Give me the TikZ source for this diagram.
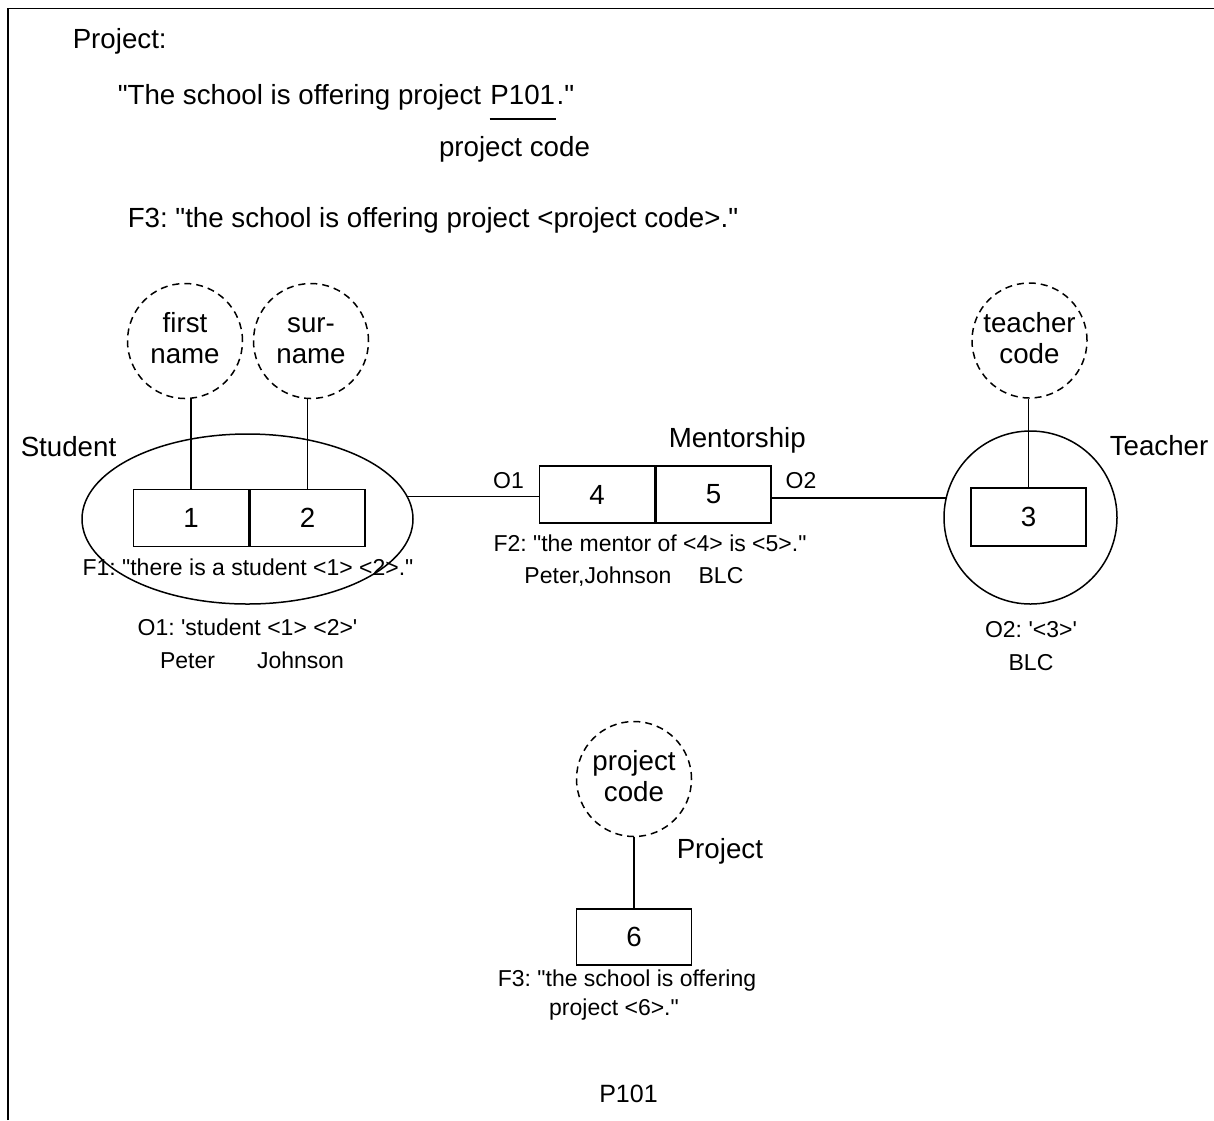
\documentclass[tikz,border=0pt]{standalone}
\usepackage{fontspec}
\newfontfamily\lib{Liberation Sans}
\usetikzlibrary{shapes.geometric}
\newcommand\lh{\vphantom{Ag}}
\begin{document}
\frenchspacing
\begin{tikzpicture}[x=1pt, y=-1pt, line width=1.5pt,
  big/.style={font=\lib\fontsize{27.7}{31}\selectfont},
  small/.style={font=\lib\fontsize{23}{29}\selectfont},
  lbl/.style={inner sep=0pt, anchor=base},
  lblw/.style={inner sep=0pt, anchor=base west},
  cell/.style={draw, rectangle, minimum width=115pt, minimum height=57pt,
    inner sep=0pt, font=\lib\fontsize{27.7}{28}\selectfont},
  attr/.style={draw, circle, dash pattern=on 7pt off 5pt, minimum size=115pt,
    inner sep=0pt, align=center, big}]
\useasboundingbox (0,0) rectangle (1214,1120);
% page frame (top and left edges)
\draw[line width=1.8pt] (8,1120) -- (8,8.5) -- (1214,8.5);

% verbal example and fact type
\node[lblw, big] (hdr) at (72,48) {Project:};
\node[lblw, big] (q1) at (117,104) {"The school is offering project};
\node[lblw, big] (q2) at ([xshift=7.7pt]q1.base east) {P101};
\node[lblw, big] (q3) at (q2.base east) {."};
\draw ([yshift=-15pt]q2.base west) -- ([yshift=-15pt]q2.base east);
\node[lbl, big] (pcl) at (514.5,156) {project code};
\node[lblw, big] (f3) at (127,227) {F3: "the school is offering project <project code>."};

% label types
\node[attr] (fn) at (185,341) {\lh first\\\lh name};
\node[attr] (sn) at (311,341) {\lh sur-\\\lh name};
\node[attr] (tc) at (1029.5,340.5) {\lh teacher\\\lh code};
\node[attr] (pc) at (634,779) {\lh project\\\lh code};

% entity types
\node[draw, ellipse, minimum width=331pt, minimum height=170pt, inner sep=0pt] (stud) at (247.5,519) {};
\node[draw, circle, minimum size=173pt, inner sep=0pt] (teach) at (1030.5,517.5) {};

% roles
\node[cell] (c1) at (191,518) {1};
\node[cell, anchor=west] (c2) at (c1.east) {2};
\node[cell] (m1) at (597,494.5) {4};
\node[cell, anchor=west] (m2) at (m1.east) {5};
\node[cell, minimum height=58pt] (c3) at (1028.5,517) {3};
\node[cell, minimum height=56pt] (c6) at (634,937) {6};

% connectors
\draw (fn.south -| c1.north) -- (c1.north);
\draw (sn.south -| c2.north) -- (c2.north);
\draw (tc.south -| c3.north) -- (c3.north);
\draw (pc.south) -- (c6.north);
\draw (stud.8) -- (stud.8 -| m1.west);
\draw (teach.167.6) -- (teach.167.6 -| m2.east);

% names and texts
\node[lblw, big] (studl) at (20,456) {Student};
\node[lblw, big] (ment) at (668,447) {Mentorship};
\node[lblw, big] (teachl) at (1109,455) {Teacher};
\node[lblw, big] (projl) at (676,858) {Project};
\node[lbl, small] (o1l) at (508.5,488) {O1};
\node[lbl, small] (o2l) at (801,488) {O2};
\node[lbl, small] (f1) at (248,575) {F1: "there is a student <1> <2>."};
\node[lbl, small] (o1) at (247.5,635) {O1: 'student <1> <2>'};
\node[lbl, small] (pet) at (187.5,668) {Peter};
\node[lbl, small] (joh) at (300.5,668) {Johnson};
\node[lbl, small] (f2) at (650,551) {F2: "the mentor of <4> is <5>."};
\node[lbl, small] (pj) at (598,583) {Peter,Johnson};
\node[lbl, small] (blc1) at (721,583) {BLC};
\node[lbl, small] (o2) at (1031,637) {O2: '<3>'};
\node[lbl, small] (blc2) at (1031,670) {BLC};
\node[lbl, small] (f3a) at (627,986) {F3: "the school is offering};
\node[lbl, small] (f3b) at (614,1015) {project <6>."};
\node[lbl, font=\lib\fontsize{25}{25}\selectfont] (p101) at (628.5,1102) {P101};
\end{tikzpicture}
\end{document}
